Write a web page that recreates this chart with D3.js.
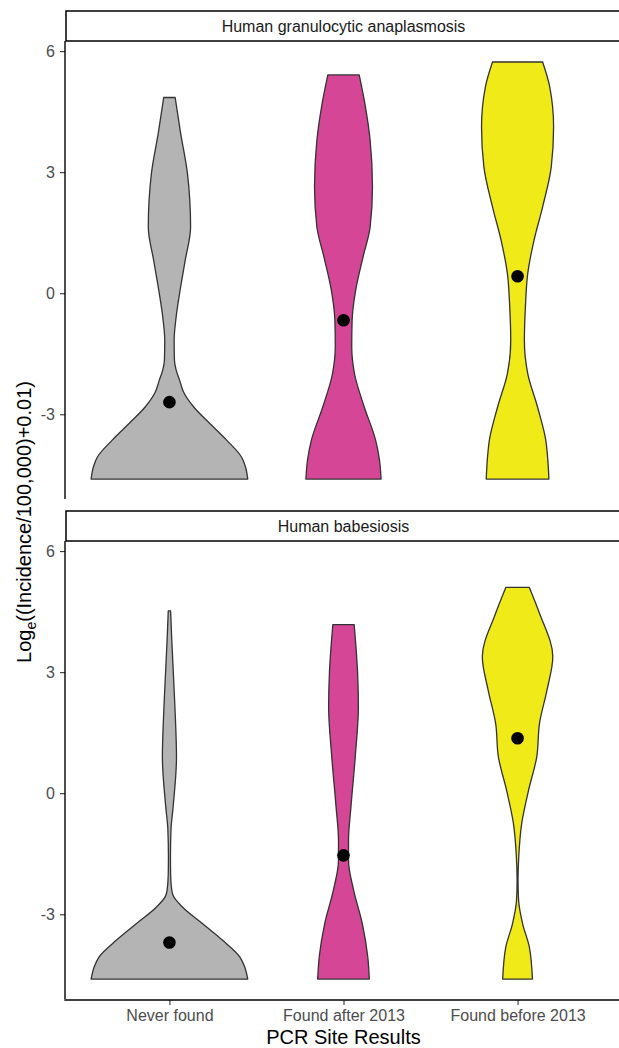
<!DOCTYPE html>
<html><head><meta charset="utf-8">
<script src="https://cdn.jsdelivr.net/npm/d3@7"></script>
<style>body{margin:0;background:#fff} text{font-family:"Liberation Sans",Arial,sans-serif}</style>
</head><body><svg id="c" width="619" height="1048"></svg>
<script>
const categories = ["Never found", "Found after 2013", "Found before 2013"];
const diseases = ["Human granulocytic anaplasmosis", "Human babesiosis"];
const yTicks = [-3, 0, 3, 6];
const fillColors = ["#B3B4B3", "#D54697", "#F1EA19"];

// mean log-incidence per group (black dots)
const meansHGA = [-2.70, -0.67, 0.42];
const meansHB = [-3.70, -1.54, 1.36];

// violin density profiles: [log value, relative density]
const hgaNever = [[-4.605,1.0],[-4.3,0.97],[-4.06,0.92],[-3.64,0.73],[-3.2,0.50],[-2.82,0.31],[-2.45,0.18],[-2.16,0.13],[-1.9,0.085],[-1.66,0.064],[-1.17,0.06],[-0.6,0.085],[0,0.13],[0.8,0.20],[1.64,0.27],[2.3,0.26],[2.97,0.23],[4.0,0.14],[4.85,0.073]];
const hgaAfter = [[-4.605,0.48],[-4.14,0.46],[-3.64,0.41],[-2.82,0.265],[-1.99,0.14],[-1.33,0.105],[-0.67,0.11],[0.07,0.155],[0.90,0.25],[1.64,0.34],[2.64,0.37],[3.79,0.34],[4.62,0.28],[5.41,0.20]];
const hgaBefore = [[-4.605,0.40],[-4.1,0.385],[-3.64,0.36],[-2.82,0.255],[-1.99,0.13],[-1.17,0.087],[-0.34,0.10],[0.49,0.13],[1.31,0.21],[2.14,0.32],[3.13,0.43],[4.12,0.46],[5.12,0.41],[5.73,0.32]];
const hbNever = [[-4.605,1.0],[-4.3,0.96],[-4.06,0.90],[-3.64,0.675],[-3.23,0.42],[-2.82,0.165],[-2.55,0.05],[-2.41,0.03],[-2.0,0.015],[-1.58,0.013],[-0.9,0.02],[-0.34,0.047],[0.90,0.09],[2.14,0.07],[3.79,0.03],[4.52,0.015]];
const hbAfter = [[-4.605,0.33],[-4.06,0.31],[-3.23,0.24],[-2.41,0.13],[-1.66,0.064],[-1.17,0.064],[-0.34,0.095],[0.90,0.15],[2.14,0.19],[2.97,0.18],[4.18,0.136]];
const hbBefore = [[-4.605,0.19],[-3.81,0.15],[-3.23,0.064],[-2.65,0.013],[-2.16,0.006],[-1.58,0.015],[-0.75,0.053],[0.07,0.14],[0.90,0.245],[1.73,0.28],[2.55,0.375],[3.38,0.45],[4.46,0.28],[5.10,0.15]];

const panels = [
  {title: diseases[0], means: meansHGA, profiles: [hgaNever, hgaAfter, hgaBefore]},
  {title: diseases[1], means: meansHB, profiles: [hbNever, hbAfter, hbBefore]}
];

const svg = d3.select("#c");
const left = 65, right = 622, stripH = 30, panelH = 458;
const panelTops = [41, 541];

const x = d3.scalePoint().domain(categories).range([left, right]).padding(0.6);
const w = d3.scaleLinear().domain([0, 1]).range([0, 0.45 * x.step()]);

panels.forEach((p, pi) => {
  const top = panelTops[pi], bottom = top + panelH;
  const y = d3.scaleLinear().domain([-5.1, 6.25]).range([bottom, top]);
  const g = svg.append("g");

  // violins
  p.profiles.forEach((prof, ci) => {
    const cx = x(categories[ci]);
    const area = d3.area()
      .y(d => y(d[0]))
      .x0(d => cx - w(d[1]))
      .x1(d => cx + w(d[1]))
      .curve(d3.curveMonotoneY);
    g.append("path").attr("d", area(prof))
      .attr("fill", fillColors[ci]).attr("stroke", "#333333").attr("stroke-width", 1.3)
      .attr("stroke-linejoin", "round");
  });
  // mean dots
  g.selectAll("circle.m").data(p.means).join("circle")
    .attr("cx", (d, i) => x(categories[i])).attr("cy", d => y(d)).attr("r", 6.3).attr("fill", "#000");

  // y axis
  const ya = g.append("g").attr("transform", `translate(${left},0)`)
    .call(d3.axisLeft(y).tickValues(yTicks).tickSize(5).tickPadding(5).tickFormat(d => String(d)));
  ya.select(".domain").remove();
  ya.selectAll(".tick line").attr("stroke", "#333333").attr("stroke-width", 1.1);
  ya.selectAll(".tick text").attr("fill", "#4D4D4D").style("font-size", "16px").style("font-family", "Liberation Sans, Arial, sans-serif");
  g.append("line").attr("x1", left).attr("x2", left).attr("y1", top).attr("y2", bottom)
    .attr("stroke", "#000").attr("stroke-width", 1.4);

  // strip
  g.append("rect").attr("x", left + 1).attr("y", top - stripH).attr("width", 619 - left + 2).attr("height", stripH)
    .attr("fill", "#fff").attr("stroke", "#000").attr("stroke-width", 1.5);
  g.append("text").attr("x", (left + right) / 2).attr("y", top - 9).attr("text-anchor", "middle")
    .attr("fill", "#1A1A1A").style("font-size", "16px").text(p.title);

  if (pi === panels.length - 1) {
    const xa = g.append("g").attr("transform", `translate(0,${bottom + 1})`)
      .call(d3.axisBottom(x).tickSize(5).tickPadding(5));
    xa.select(".domain").remove();
    xa.selectAll(".tick line").attr("stroke", "#333333").attr("stroke-width", 1.1);
    xa.selectAll(".tick text").attr("fill", "#4D4D4D").style("font-size", "16px").style("font-family", "Liberation Sans, Arial, sans-serif");
    g.append("line").attr("x1", left - 0.7).attr("x2", 619).attr("y1", bottom + 1).attr("y2", bottom + 1)
      .attr("stroke", "#000").attr("stroke-width", 1.4);
  }
});

// axis titles
svg.append("text").attr("x", (left + right) / 2).attr("y", 1044).attr("text-anchor", "middle")
  .attr("fill", "#000").style("font-size", "20px").text("PCR Site Results");
const yt = svg.append("text").attr("transform", "translate(31,522) rotate(-90)").attr("text-anchor", "middle")
  .attr("fill", "#000").style("font-size", "20px");
yt.append("tspan").text("Log");
yt.append("tspan").attr("dy", 5).style("font-size", "14px").text("e");
yt.append("tspan").attr("dy", -5).text("((Incidence/100,000)+0.01)");
</script></body></html>
